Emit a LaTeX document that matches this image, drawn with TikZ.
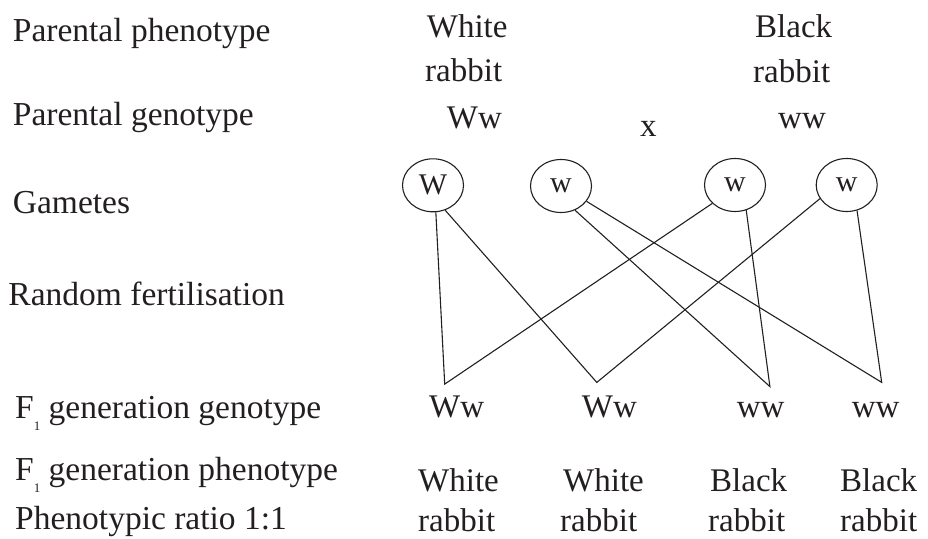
\documentclass[tikz,border=0pt]{standalone}
\usepackage{fontspec}
\setmainfont{Liberation Serif}
\usetikzlibrary{shapes.geometric}
\definecolor{ink}{RGB}{35,31,32}
\newcommand{\Fone}{F\raisebox{-12pt}{\fontsize{13}{13}\selectfont 1}}
\begin{document}
\begin{tikzpicture}[x=1pt,y=-1pt,
  lbl/.style={anchor=base west,inner sep=0pt,font=\fontsize{33.5}{38}\selectfont,text=ink},
  val/.style={anchor=base west,inner sep=0pt,font=\fontsize{33}{38}\selectfont,text=ink},
  gam/.style={ellipse,draw=ink,line width=1.1pt,minimum width=61pt,minimum height=53pt,inner sep=0pt,font=\fontsize{30}{34}\selectfont,text=ink},
  link/.style={draw=ink,line width=1.1pt}]
\useasboundingbox (0,0) rectangle (928,538);
% left labels
\node[lbl] (l1) at (12.7,41.7) {Parental phenotype};
\node[lbl] (l2) at (12.7,125) {Parental genotype};
\node[lbl] (l3) at (12.7,213.3) {Gametes};
\node[lbl] (l4) at (8.3,305) {Random fertilisation};
\node[lbl] (l5) at (15,418.3) {\Fone\ generation genotype};
\node[lbl] (l6) at (15,480.7) {\Fone\ generation phenotype};
\node[lbl] (l7) at (15,529) {Phenotypic ratio 1:1};
% parents
\node[val] (p1a) at (426.7,37.3) {White};
\node[val] (p1b) at (425,81.7) {rabbit};
\node[val] (p2a) at (755,37) {Black};
\node[val] (p2b) at (753,82) {rabbit};
\node[val] (pg1) at (446.7,128.3) {Ww};
\node[val] (px) at (640,136.7) {x};
\node[val] (pg2) at (778,128) {ww};
% gametes
\node[gam] (g1) at (433,185.3) {W};
\node[gam] (g2) at (561,186) {w};
\node[gam] (g3) at (735,185) {w};
\node[gam] (g4) at (846.7,185) {w};
% fertilisation points
\coordinate (a1) at (444.7,384.1);
\coordinate (a2) at (596.8,382.4);
\coordinate (a3) at (769.9,386.6);
\coordinate (a4) at (881.7,382.4);
\draw[link] (g1.-84) -- (a1) -- (g3.-141);
\draw[link] (g1.-64) -- (a2) -- (g4.-153);
\draw[link] (g2.-60) -- (a3) -- (g3.-66);
\draw[link] (g2.-31) -- (a4) -- (g4.-68);
% F1 genotypes
\node[val] (f1) at (429,417.3) {Ww};
\node[val] (f2) at (581.7,417.3) {Ww};
\node[val] (f3) at (736.7,417.3) {ww};
\node[val] (f4) at (851.7,417.3) {ww};
% F1 phenotypes
\node[val] (h1a) at (418,491) {White};
\node[val] (h1b) at (418,531) {rabbit};
\node[val] (h2a) at (563,491) {White};
\node[val] (h2b) at (560,531) {rabbit};
\node[val] (h3a) at (710,491) {Black};
\node[val] (h3b) at (708,531) {rabbit};
\node[val] (h4a) at (840,491) {Black};
\node[val] (h4b) at (840,531) {rabbit};
\end{tikzpicture}
\end{document}
